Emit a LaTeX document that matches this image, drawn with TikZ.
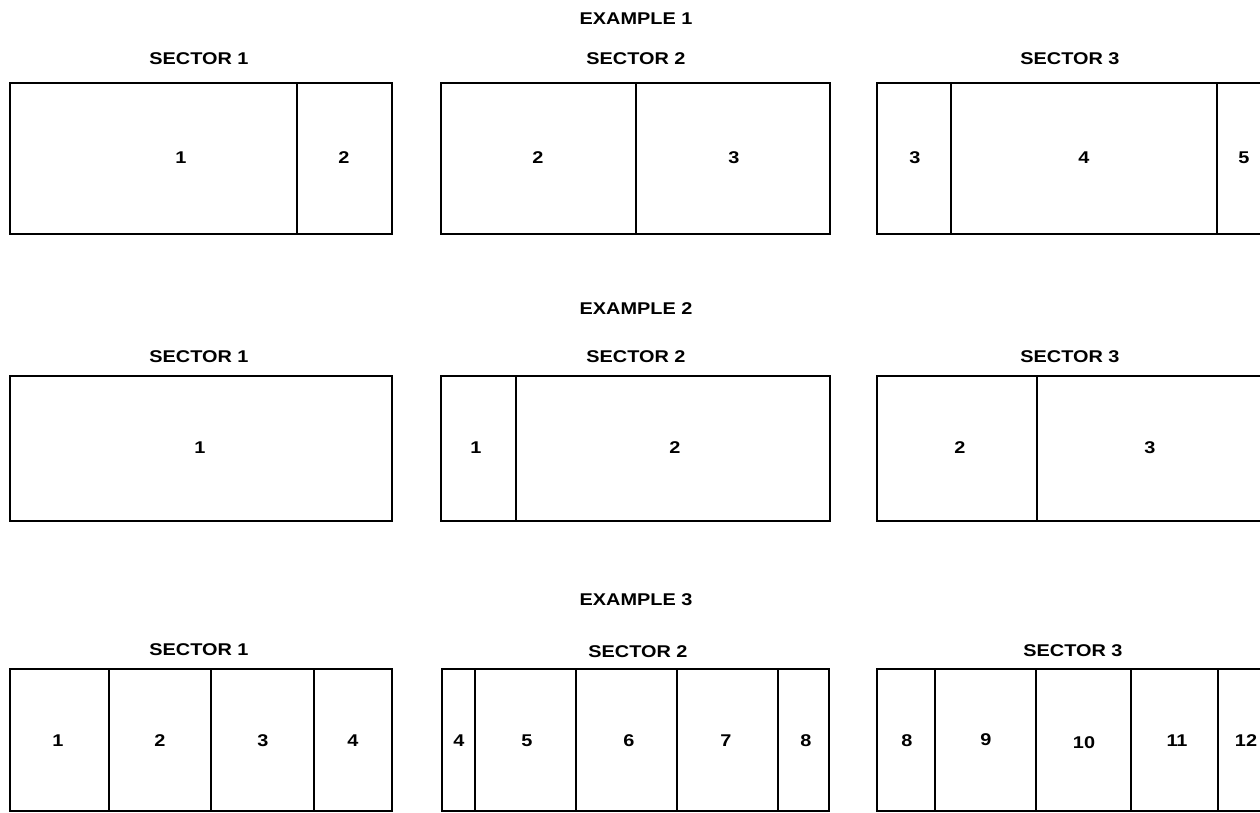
\documentclass[tikz,border=0pt]{standalone}
\usepackage{fontspec}
\setmainfont{Liberation Sans}[FakeStretch=1.2,BoldFeatures={FakeStretch=1.17}]
\begin{document}
\begin{tikzpicture}[x=1pt,y=-1pt,
  box/.style={line width=2.8pt, line join=miter},
  txt/.style={font=\fontsize{17}{19}\selectfont\bfseries, inner sep=0pt, anchor=center},
  head/.style={txt}]
\useasboundingbox (0,0) rectangle (1260,813);
\fill[white] (0,0) rectangle (1260,813);
% ---------- Example 1
\node[head] (e1) at (636,19) {EXAMPLE 1};
\node[head] (e1s1) at (199,59) {SECTOR 1};
\node[head] (e1s2) at (636,59) {SECTOR 2};
\node[head] (e1s3) at (1070,59) {SECTOR 3};
\draw[box] (10,83) rectangle (392,234) (297,83) -- (297,234);
\draw[box] (441,83) rectangle (830,234) (636,83) -- (636,234);
\draw[box] (877,83) rectangle (1263,234) (951,83) -- (951,234) (1217,83) -- (1217,234);
\node[txt] (a1) at (181,158) {1};
\node[txt] (a2) at (344,158) {2};
\node[txt] (a3) at (538,158) {2};
\node[txt] (a4) at (734,158) {3};
\node[txt] (a5) at (915,158) {3};
\node[txt] (a6) at (1084,158) {4};
\node[txt] (a7) at (1244,158) {5};
% ---------- Example 2
\node[head] (e2) at (636,309) {EXAMPLE 2};
\node[head] (e2s1) at (199,357) {SECTOR 1};
\node[head] (e2s2) at (636,357) {SECTOR 2};
\node[head] (e2s3) at (1070,357) {SECTOR 3};
\draw[box] (10,376) rectangle (392,521);
\draw[box] (441,376) rectangle (830,521) (516,376) -- (516,521);
\draw[box] (877,376) rectangle (1263,521) (1037,376) -- (1037,521);
\node[txt] (b1) at (200,448) {1};
\node[txt] (b2) at (476,448) {1};
\node[txt] (b3) at (675,448) {2};
\node[txt] (b4) at (960,448) {2};
\node[txt] (b5) at (1150,448) {3};
% ---------- Example 3
\node[head] (e3) at (636,600) {EXAMPLE 3};
\node[head] (e3s1) at (199,650) {SECTOR 1};
\node[head] (e3s2) at (638,652) {SECTOR 2};
\node[head] (e3s3) at (1073,651) {SECTOR 3};
\draw[box] (10,669) rectangle (392,811) (109,669) -- (109,811) (211,669) -- (211,811) (314,669) -- (314,811);
\draw[box] (442,669) rectangle (829,811) (475,669) -- (475,811) (576,669) -- (576,811) (677,669) -- (677,811) (778,669) -- (778,811);
\draw[box] (877,669) rectangle (1263,811) (935,669) -- (935,811) (1036,669) -- (1036,811) (1131,669) -- (1131,811) (1218,669) -- (1218,811);
\node[txt] (c1) at (58,741) {1};
\node[txt] (c2) at (160,741) {2};
\node[txt] (c3) at (263,741) {3};
\node[txt] (c4) at (353,741) {4};
\node[txt] (c5) at (459,741) {4};
\node[txt] (c6) at (527,741) {5};
\node[txt] (c7) at (629,741) {6};
\node[txt] (c8) at (726,741) {7};
\node[txt] (c9) at (806,741) {8};
\node[txt] (c10) at (907,741) {8};
\node[txt] (c11) at (986,740) {9};
\node[txt] (c12) at (1084,743) {10};
\node[txt] (c13) at (1177,741) {11};
\node[txt] (c14) at (1246,741) {12};
\end{tikzpicture}
\end{document}
